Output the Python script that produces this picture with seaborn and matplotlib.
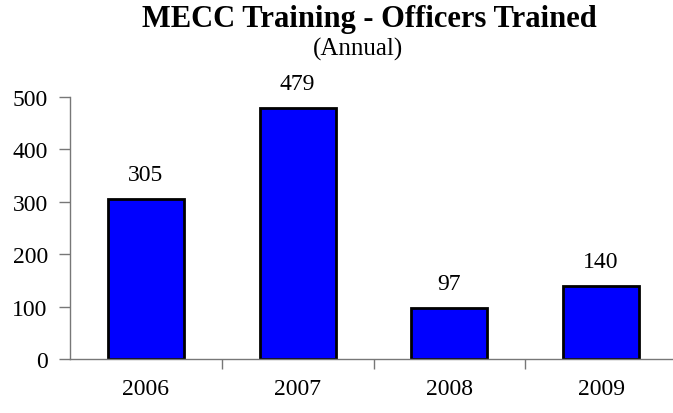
import matplotlib
matplotlib.use("Agg")
import matplotlib.pyplot as plt
import seaborn as sns
import pandas as pd

years = ["2006", "2007", "2008", "2009"]
officers = [305, 479, 97, 140]

sns.set_style("white")
plt.rcParams['font.family'] = ['Liberation Serif', 'DejaVu Serif']
plt.rcParams['text.color'] = 'black'
plt.rcParams['xtick.color'] = 'black'
plt.rcParams['ytick.color'] = 'black'

df = pd.DataFrame({"year": years, "officers": officers})

fig = plt.figure(figsize=(6.73, 4.14), dpi=100)
ax = fig.add_axes([70/673, 1-360/414, 607/673, 262/414])
sns.barplot(data=df, x="year", y="officers", color="#0000FF", saturation=1,
            width=0.5, edgecolor="black", linewidth=2, ax=ax)
ax.set_ylim(0, 500)
ax.set_xlim(-0.5, 3.5)
ax.set_yticks([0, 100, 200, 300, 400, 500])
ax.set_xlabel("")
ax.set_ylabel("")
ax.set_xticks([0.5, 1.5, 2.5], minor=False)
ax.set_xticklabels([])
ax.set_xticks(range(len(years)), minor=True)
ax.set_xticklabels(years, minor=True)
ax.tick_params(axis='x', which='minor', length=0, pad=14, labelsize=17, labelcolor='black')
ax.tick_params(axis='x', which='major', length=7, width=1, color='#777777', direction='out', bottom=True)
ax.tick_params(axis='y', length=8, width=1, color='#777777', direction='out', left=True,
               labelsize=17, pad=8, labelcolor='black')
for s in ['top', 'right']:
    ax.spines[s].set_visible(False)
for s in ['left', 'bottom']:
    ax.spines[s].set_color('#777777')
    ax.spines[s].set_linewidth(1)
for c in ax.containers:
    ax.bar_label(c, labels=[str(v) for v in officers], padding=10, fontsize=17, color='black')
fig.text(369/673, 1-20/414, "MECC Training - Officers Trained", ha='center', va='center',
         fontsize=22, fontweight='bold', color='black')
fig.text(358/673, 1-49/414, "(Annual)", ha='center', va='center', fontsize=18, color='black')
fig.savefig("out.png", dpi=100)
